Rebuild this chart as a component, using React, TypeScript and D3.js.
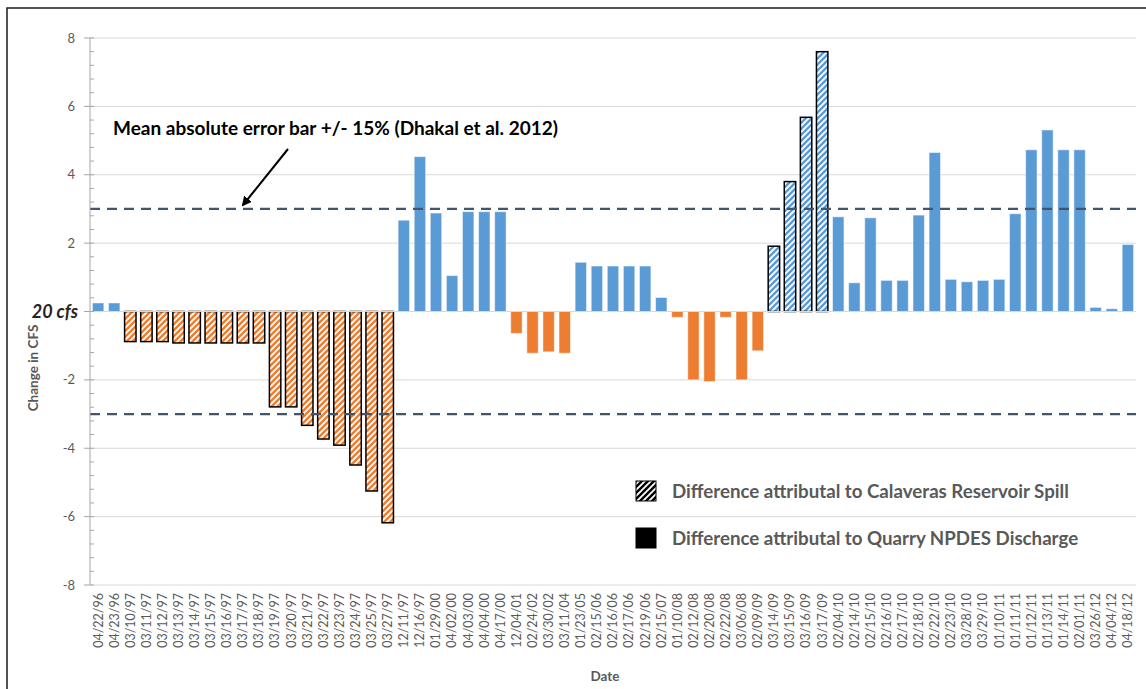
import React, { useEffect, useRef } from "react";
import * as d3 from "d3";

// sample dates (x categories)
const dates = [
  "04/22/96", "04/23/96", "03/10/97", "03/11/97", "03/12/97", "03/13/97", "03/14/97",
  "03/15/97", "03/16/97", "03/17/97", "03/18/97", "03/19/97", "03/20/97", "03/21/97",
  "03/22/97", "03/23/97", "03/24/97", "03/25/97", "03/27/97", "12/11/97", "12/16/97",
  "01/29/00", "04/02/00", "04/03/00", "04/04/00", "04/17/00", "12/04/01", "02/24/02",
  "03/30/02", "03/11/04", "01/23/05", "02/15/06", "02/16/06", "02/17/06", "02/19/06",
  "02/15/07", "01/10/08", "02/12/08", "02/20/08", "02/22/08", "03/06/08", "02/09/09",
  "03/14/09", "03/15/09", "03/16/09", "03/17/09", "02/04/10", "02/14/10", "02/15/10",
  "02/16/10", "02/17/10", "02/18/10", "02/22/10", "02/23/10", "03/28/10", "03/29/10",
  "01/10/11", "01/11/11", "01/12/11", "01/13/11", "01/14/11", "02/01/11", "03/26/12",
  "04/04/12", "04/18/12",
];

// change in CFS for each date
const changes = [
  0.25, 0.25, -0.88, -0.88, -0.88, -0.92, -0.92,
  -0.92, -0.92, -0.92, -0.92, -2.79, -2.79, -3.33,
  -3.73, -3.91, -4.49, -5.25, -6.18, 2.67, 4.53,
  2.88, 1.05, 2.92, 2.92, 2.92, -0.64, -1.22,
  -1.18, -1.22, 1.44, 1.33, 1.33, 1.33, 1.33,
  0.41, -0.17, -2.0, -2.05, -0.17, -2.0, -1.15,
  1.91, 3.8, 5.68, 7.6, 2.77, 0.84, 2.74,
  0.91, 0.91, 2.82, 4.65, 0.94, 0.87, 0.91,
  0.94, 2.86, 4.73, 5.31, 4.73, 4.73, 0.12,
  0.08, 1.96,
];

// dates whose difference is attributed to the Calaveras Reservoir spill (hatched bars)
const spillDates = [
  "03/10/97", "03/11/97", "03/12/97", "03/13/97", "03/14/97", "03/15/97", "03/16/97",
  "03/17/97", "03/18/97", "03/19/97", "03/20/97", "03/21/97", "03/22/97", "03/23/97",
  "03/24/97", "03/25/97", "03/27/97", "03/14/09", "03/15/09", "03/16/09", "03/17/09",
];

const yTicks = [-8, -6, -4, -2, 0, 2, 4, 6, 8];
const errorBand = [3, -3];
const legendItems = [
  "Difference attributal to Calaveras Reservoir Spill",
  "Difference attributal to Quarry NPDES Discharge",
];

const FONT = "Lato, 'Open Sans', sans-serif";
const BLUE = "#5b9bd5";
const ORANGE = "#ed7d31";
const GREY_TEXT = "#595959";

const App = () => {
  const svgRef = useRef(null);

  useEffect(() => {
    const svg = d3.select(svgRef.current);
    svg.selectAll("*").remove();

    const W = 1146;
    const H = 689;
    const left = 90;
    const right = 1136;
    const top = 38;
    const bottom = 585;

    svg.attr("width", W).attr("height", H).style("background", "#fff");

    // hatch patterns
    const defs = svg.append("defs");
    const addHatch = (id, color) => {
      const p = defs
        .append("pattern")
        .attr("id", id)
        .attr("patternUnits", "userSpaceOnUse")
        .attr("width", 6)
        .attr("height", 6);
      p.append("rect").attr("width", 6).attr("height", 6).attr("fill", "#fff");
      p.append("path")
        .attr("d", "M-1,1 l2,-2 M0,6 l6,-6 M5,7 l2,-2")
        .attr("stroke", color)
        .attr("stroke-width", 2.4);
    };
    addHatch("hatchOrange", ORANGE);
    addHatch("hatchBlue", BLUE);
    addHatch("hatchBlack", "#000");

    // outer frame
    svg
      .append("rect")
      .attr("x", 7)
      .attr("y", 8)
      .attr("width", 1200)
      .attr("height", 700)
      .attr("fill", "none")
      .attr("stroke", "#1a1a1a")
      .attr("stroke-width", 1.5);

    // scales
    const x = d3.scaleBand().domain(dates).range([left, right]).paddingInner(0.29).paddingOuter(0.15);
    const y = d3.scaleLinear().domain([-8, 8]).range([bottom, top]);

    // gridlines
    svg
      .append("g")
      .selectAll("line")
      .data(yTicks)
      .join("line")
      .attr("x1", left)
      .attr("x2", right)
      .attr("y1", (d) => y(d))
      .attr("y2", (d) => y(d))
      .attr("stroke", "#d9d9d9")
      .attr("stroke-width", 1);

    // bars
    svg
      .append("g")
      .selectAll("rect")
      .data(dates.map((d, i) => ({ date: d, value: changes[i], spill: spillDates.includes(d) })))
      .join("rect")
      .attr("x", (d) => x(d.date))
      .attr("width", x.bandwidth())
      .attr("y", (d) => y(Math.max(0, d.value)))
      .attr("height", (d) => Math.abs(y(d.value) - y(0)))
      .attr("fill", (d) =>
        d.spill ? (d.value < 0 ? "url(#hatchOrange)" : "url(#hatchBlue)") : d.value < 0 ? ORANGE : BLUE
      )
      .attr("stroke", (d) => (d.spill ? "#000" : "#fff"))
      .attr("stroke-opacity", (d) => (d.spill ? 1 : 0.5))
      .attr("stroke-width", (d) => (d.spill ? 1.5 : 1));

    // zero line
    svg
      .append("line")
      .attr("x1", left)
      .attr("x2", right)
      .attr("y1", y(0))
      .attr("y2", y(0))
      .attr("stroke", "#d9d9d9")
      .attr("stroke-width", 1.2);

    // error band dashed lines
    svg
      .append("g")
      .selectAll("line")
      .data(errorBand)
      .join("line")
      .attr("x1", left)
      .attr("x2", right)
      .attr("y1", (d) => y(d))
      .attr("y2", (d) => y(d))
      .attr("stroke", "#44546a")
      .attr("stroke-width", 2.2)
      .attr("stroke-dasharray", "10,7");

    // y axis
    const yAxis = svg.append("g");
    yAxis
      .append("line")
      .attr("x1", left)
      .attr("x2", left)
      .attr("y1", top)
      .attr("y2", bottom)
      .attr("stroke", "#a6a6a6");
    yAxis
      .selectAll(".minor")
      .data(d3.range(-8, 8.01, 0.4))
      .join("line")
      .attr("class", "minor")
      .attr("x1", left)
      .attr("x2", left + 4)
      .attr("y1", (d) => y(d))
      .attr("y2", (d) => y(d))
      .attr("stroke", "#a6a6a6");
    yAxis
      .selectAll(".major")
      .data(yTicks)
      .join("line")
      .attr("class", "major")
      .attr("x1", left - 6)
      .attr("x2", left)
      .attr("y1", (d) => y(d))
      .attr("y2", (d) => y(d))
      .attr("stroke", "#a6a6a6");
    yAxis
      .selectAll("text")
      .data(yTicks)
      .join("text")
      .attr("x", (d) => (d === 0 ? 78 : 75))
      .attr("y", (d) => y(d))
      .attr("dy", "0.35em")
      .attr("text-anchor", "end")
      .style("font-family", FONT)
      .style("font-size", (d) => (d === 0 ? "18px" : "13px"))
      .style("font-weight", (d) => (d === 0 ? 700 : 400))
      .style("font-style", (d) => (d === 0 ? "italic" : "normal"))
      .attr("fill", (d) => (d === 0 ? "#262626" : GREY_TEXT))
      .text((d) => (d === 0 ? "20 cfs" : d));

    // x labels
    svg
      .append("g")
      .selectAll("text")
      .data(dates)
      .join("text")
      .attr("transform", (d) => `translate(${x(d) + x.bandwidth() / 2},593) rotate(-90)`)
      .attr("dy", "0.35em")
      .attr("text-anchor", "end")
      .style("font-family", FONT)
      .style("font-size", "12.5px")
      .attr("fill", GREY_TEXT)
      .text((d) => d);

    // axis titles
    svg
      .append("text")
      .attr("transform", "translate(38,368) rotate(-90)")
      .attr("text-anchor", "middle")
      .style("font-family", FONT)
      .style("font-size", "13.5px")
      .style("font-weight", 700)
      .attr("fill", GREY_TEXT)
      .text("Change in CFS");
    svg
      .append("text")
      .attr("x", 605)
      .attr("y", 681)
      .attr("text-anchor", "middle")
      .style("font-family", FONT)
      .style("font-size", "13.5px")
      .style("font-weight", 700)
      .attr("fill", GREY_TEXT)
      .text("Date");

    // annotation
    svg
      .append("text")
      .attr("x", 113)
      .attr("y", 135)
      .style("font-family", FONT)
      .style("font-size", "19px")
      .style("font-weight", 700)
      .attr("fill", "#000")
      .text("Mean absolute error bar +/- 15% (Dhakal et al. 2012)");
    defs
      .append("marker")
      .attr("id", "arrow")
      .attr("viewBox", "0 0 10 10")
      .attr("refX", 8)
      .attr("refY", 5)
      .attr("markerWidth", 5)
      .attr("markerHeight", 5)
      .attr("orient", "auto")
      .append("path")
      .attr("d", "M0,0 L10,5 L0,10 z")
      .attr("fill", "#000");
    svg
      .append("line")
      .attr("x1", 288)
      .attr("y1", 149)
      .attr("x2", 243)
      .attr("y2", 205)
      .attr("stroke", "#000")
      .attr("stroke-width", 2)
      .attr("marker-end", "url(#arrow)");

    // legend
    const legend = svg
      .append("g")
      .selectAll("g")
      .data(legendItems)
      .join("g")
      .attr("transform", (d, i) => `translate(636,${481 + i * 47})`);
    legend
      .append("rect")
      .attr("width", 20)
      .attr("height", 20)
      .attr("fill", (d, i) => (i === 0 ? "url(#hatchBlack)" : "#000"))
      .attr("stroke", "#000")
      .attr("stroke-width", 1);
    legend
      .append("text")
      .attr("x", 36)
      .attr("y", 10)
      .attr("dy", "0.35em")
      .style("font-family", FONT)
      .style("font-size", "18.7px")
      .style("font-weight", 700)
      .attr("fill", GREY_TEXT)
      .text((d) => d);
  }, []);

  return <svg ref={svgRef} style={{ position: "absolute", left: 0, top: 0, display: "block" }}></svg>;
};

export default App;
